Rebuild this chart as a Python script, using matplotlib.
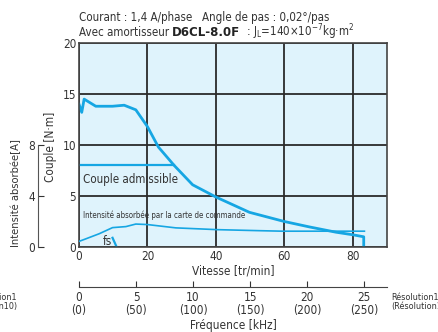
import matplotlib
matplotlib.use("Agg")
import matplotlib.pyplot as plt
from matplotlib import font_manager

# speed [tr/min] vs pull-out torque [N.m]
speed_torque = [0, 0.8, 1.5, 4.9, 9.8, 13.2, 16.6, 20, 23.2, 27.8, 33.2, 40, 49.8, 60, 67.3, 75.1, 80, 83.2, 83.2]
torque = [14.0, 13.2, 14.5, 13.8, 13.8, 13.9, 13.45, 11.8, 9.8, 8.0, 6.1, 4.9, 3.4, 2.5, 1.97, 1.45, 1.2, 1.0, 0.0]

# driver input current [A]
speed_current = [0, 2, 5.9, 9.8, 13.7, 16.6, 20, 28.3, 40.5, 52.7, 59.5, 83.4]
current = [0.44, 0.64, 1.04, 1.52, 1.6, 1.8, 1.76, 1.5, 1.36, 1.28, 1.24, 1.24]

# permissible torque
speed_adm = [0, 27.8]
torque_adm = [8.0, 8.0]

# starting frequency segment
speed_fs = [9.8, 11.0]
torque_fs = [0.9, 0.0]

speed_ticks = [0, 20, 40, 60, 80]
torque_ticks = [0, 5, 10, 15, 20]
current_ticks = [0, 4, 8]
freq_ticks = [0, 5, 10, 15, 20, 25]
freq_labels = ["0\n(0)", "5\n(50)", "10\n(100)", "15\n(150)", "20\n(200)", "25\n(250)"]

# look for a condensed face, else fall back
ttf = font_manager.fontManager.ttflist
names = {f.name for f in ttf}
stretch = "normal"
if "Liberation Sans Narrow" in names:
    narrow = "Liberation Sans Narrow"
elif any(f.name == "DejaVu Sans" and "Condensed" in f.fname for f in ttf):
    narrow, stretch = "DejaVu Sans", "condensed"
else:
    narrow = "Liberation Sans"
plt.rcParams['font.family'] = [narrow, 'DejaVu Sans']
plt.rcParams['font.stretch'] = stretch
plt.rcParams['mathtext.fontset'] = 'custom'
plt.rcParams['mathtext.rm'] = narrow

blue = "#16a6e3"
ink = "#333333"
W, H = 439, 332

fig = plt.figure(figsize=(W / 100, H / 100), dpi=100)
ax = fig.add_axes([79 / W, 1 - 247 / H, 308 / W, 204 / H])
ax.set_facecolor("#dff3fc")
ax.set_xlim(0, 90)
ax.set_ylim(0, 20)
ax.set_xticks(speed_ticks)
ax.set_yticks(torque_ticks)
ax.grid(True, color="#2a2a2a", lw=1.3)
ax.set_axisbelow(True)
ax.tick_params(length=0, labelsize=8.5, colors=ink, pad=2)
for s in ax.spines.values():
    s.set_color("#444444")
    s.set_linewidth(1.2)

ax.plot(speed_torque, torque, color=blue, lw=2.0, solid_joinstyle="round")
ax.plot(speed_adm, torque_adm, color=blue, lw=1.6)
ax.plot(speed_fs, torque_fs, color=blue, lw=1.6)

# current on its own scale (8 A == 10 N.m)
axc = ax.twinx()
axc.set_ylim(0, 16)
axc.plot(speed_current, current, color=blue, lw=1.2)
axc.yaxis.set_ticks_position("left")
axc.spines["left"].set_position(("outward", 41 * 0.72))
axc.spines["left"].set_bounds(0, 8)
axc.spines["left"].set_color("#555555")
for side in ["right", "top", "bottom"]:
    axc.spines[side].set_visible(False)
axc.set_yticks(current_ticks)
axc.tick_params(axis="y", direction="in", length=4, labelsize=8.5, colors=ink, pad=2)

ax.text(1.2, 6.6, "Couple admissible", fontsize=8.3, color=ink, va="center")
ax.text(1.2, 3.1, "Intensité absorbée par la carte de commande", fontsize=5.7, color=ink, va="center")
ax.text(8.3, 0.5, "fs", fontsize=8.5, color=ink, va="center", ha="center")

ax.set_xlabel("Vitesse [tr/min]", fontsize=8.5, color=ink, labelpad=1)
fig.text(51 / W, 1 - 147 / H, "Couple [N·m]", rotation=90, fontsize=8.5, color=ink, ha="center", va="center")
fig.text(16 / W, 1 - 193 / H, "Intensité absorbée[A]", rotation=90, fontsize=8, color=ink, ha="center", va="center")

# frequency axis
axf = fig.add_axes([79 / W, 1 - 287 / H, 308 / W, 0.001])
axf.set_xlim(0, 90 * 6 / 0.02 / 1000)
for side in ["left", "right", "top"]:
    axf.spines[side].set_visible(False)
axf.spines["bottom"].set_color("#444444")
axf.set_yticks([])
axf.set_xticks(freq_ticks)
axf.set_xticklabels(freq_labels, linespacing=1.0)
axf.tick_params(axis="x", direction="in", length=4, labelsize=8.5, colors=ink, pad=3)
axf.set_xlabel("Fréquence [kHz]", fontsize=8.5, color=ink, labelpad=1)
fig.text(17 / W, 1 - 302 / H, "Résolution1\n(Résolution10)", fontsize=6.5, color=ink, ha="right", va="center", linespacing=1.0)
fig.text(391 / W, 1 - 302 / H, "Résolution1\n(Résolution10)", fontsize=6.5, color=ink, ha="left", va="center", linespacing=1.0)

# header
fig.text(79 / W, 1 - 17 / H, "Courant : 1,4 A/phase   Angle de pas : 0,02°/pas", fontsize=8.3, color=ink, va="center")
t1 = fig.text(79 / W, 1 - 32 / H, "Avec amortisseur ", fontsize=8.3, color=ink, va="center")
fig.canvas.draw()
r = fig.canvas.get_renderer()
x1 = t1.get_window_extent(r).x1
t2 = fig.text(x1 / W, 1 - 32 / H, "D6CL-8.0F", fontsize=8.5, color="#222222", va="center",
              family="DejaVu Sans", weight="bold", stretch="normal")
x2 = t2.get_window_extent(r).x1
fig.text(x2 / W, 1 - 32 / H, r"  : $\mathregular{J_L}$=140×10$^{\mathregular{-7}}$kg·m$^{\mathregular{2}}$",
         fontsize=8.3, color=ink, va="center")

fig.savefig("out.png", dpi=100)
